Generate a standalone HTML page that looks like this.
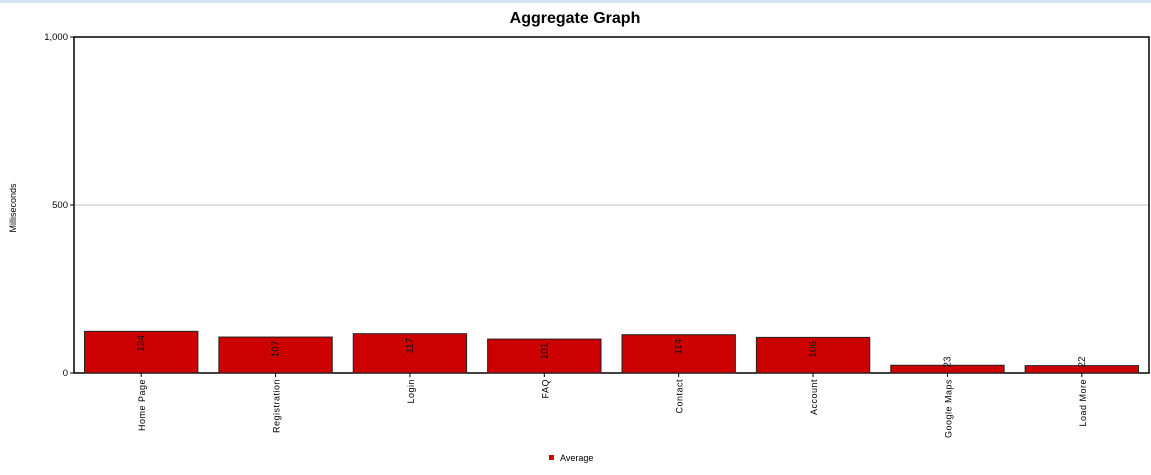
<!DOCTYPE html>
<html><head><meta charset="utf-8"><style>
body{margin:0;background:#fff;font-family:"Liberation Sans",sans-serif;}
</style></head><body>
<div style="position:absolute;left:0;top:0;width:1151px;height:3px;background:#d6e4f2"></div>
<svg id="c" width="1151" height="475" style="position:absolute;left:0;top:0">
<text x="575" y="23" text-anchor="middle" font-size="16" font-weight="bold">Aggregate Graph</text>
<text transform="translate(16,208) rotate(-90)" text-anchor="middle" font-size="9">Milliseconds</text>
<g id="g"></g>
<rect x="549" y="455" width="5" height="5" fill="#cc0000"/>
<text x="560" y="461" font-size="9">Average</text>
</svg>
<script>
const categories=["Home Page","Registration","Login","FAQ","Contact","Account","Google Maps","Load More"];
const values=[124,107,117,101,114,106,23,22];
const yTicks=[0,500,1000];
const yTickLabels=["0","500","1,000"];
const L=74,R=1149,T=37,B=373,ymax=1000;
const y=v=>B-(v/ymax)*(B-T);
const bw=(R-L)/categories.length;
const x=i=>L+i*bw;
const g=document.getElementById('g');
const NS='http://www.w3.org/2000/svg';
function mk(t,a){const e=document.createElementNS(NS,t);for(const k in a)e.setAttribute(k,a[k]);g.appendChild(e);return e;}
yTicks.forEach((v,i)=>{
  if(v>0&&v<ymax){const l=mk('line',{x1:L,x2:R,y1:y(v),y2:y(v),stroke:'#c0c0c0','stroke-width':1});
  
  }
  const tk=mk('line',{x1:L-4,x2:L,y1:y(v),y2:y(v),stroke:'#000'});
  
  
  const t=mk('text',{x:L-6,y:y(v)+3,'text-anchor':'end','font-size':9.5});
  t.textContent=yTickLabels[i];
  
  
});
const fr=mk('rect',{x:L,y:T,width:R-L,height:B-T,fill:'none',stroke:'#000','stroke-width':1.5});


categories.forEach((c,i)=>{
  const cx=x(i)+bw/2, top=y(values[i]);
  const r=mk('rect',{x:x(i)+10.5,y:top,width:bw-21,height:B-top,fill:'#cc0000',stroke:'#222','stroke-width':1});
  
  
  const vy=Math.min(top+12,362);
  const vt=mk('text',{transform:`translate(${cx+3},${vy}) rotate(-90)`,'text-anchor':'middle','font-size':10,fill:'#111'});
  vt.textContent=values[i];
  
  
  const tk=mk('line',{x1:cx,x2:cx,y1:B,y2:B+4,stroke:'#000'});
  
  
  const t=mk('text',{transform:`translate(${cx+4},${B+6}) rotate(-90)`,'text-anchor':'end','font-size':9,'letter-spacing':'0.5'});
  t.textContent=c;
  
  
});
</script>
</body></html>
